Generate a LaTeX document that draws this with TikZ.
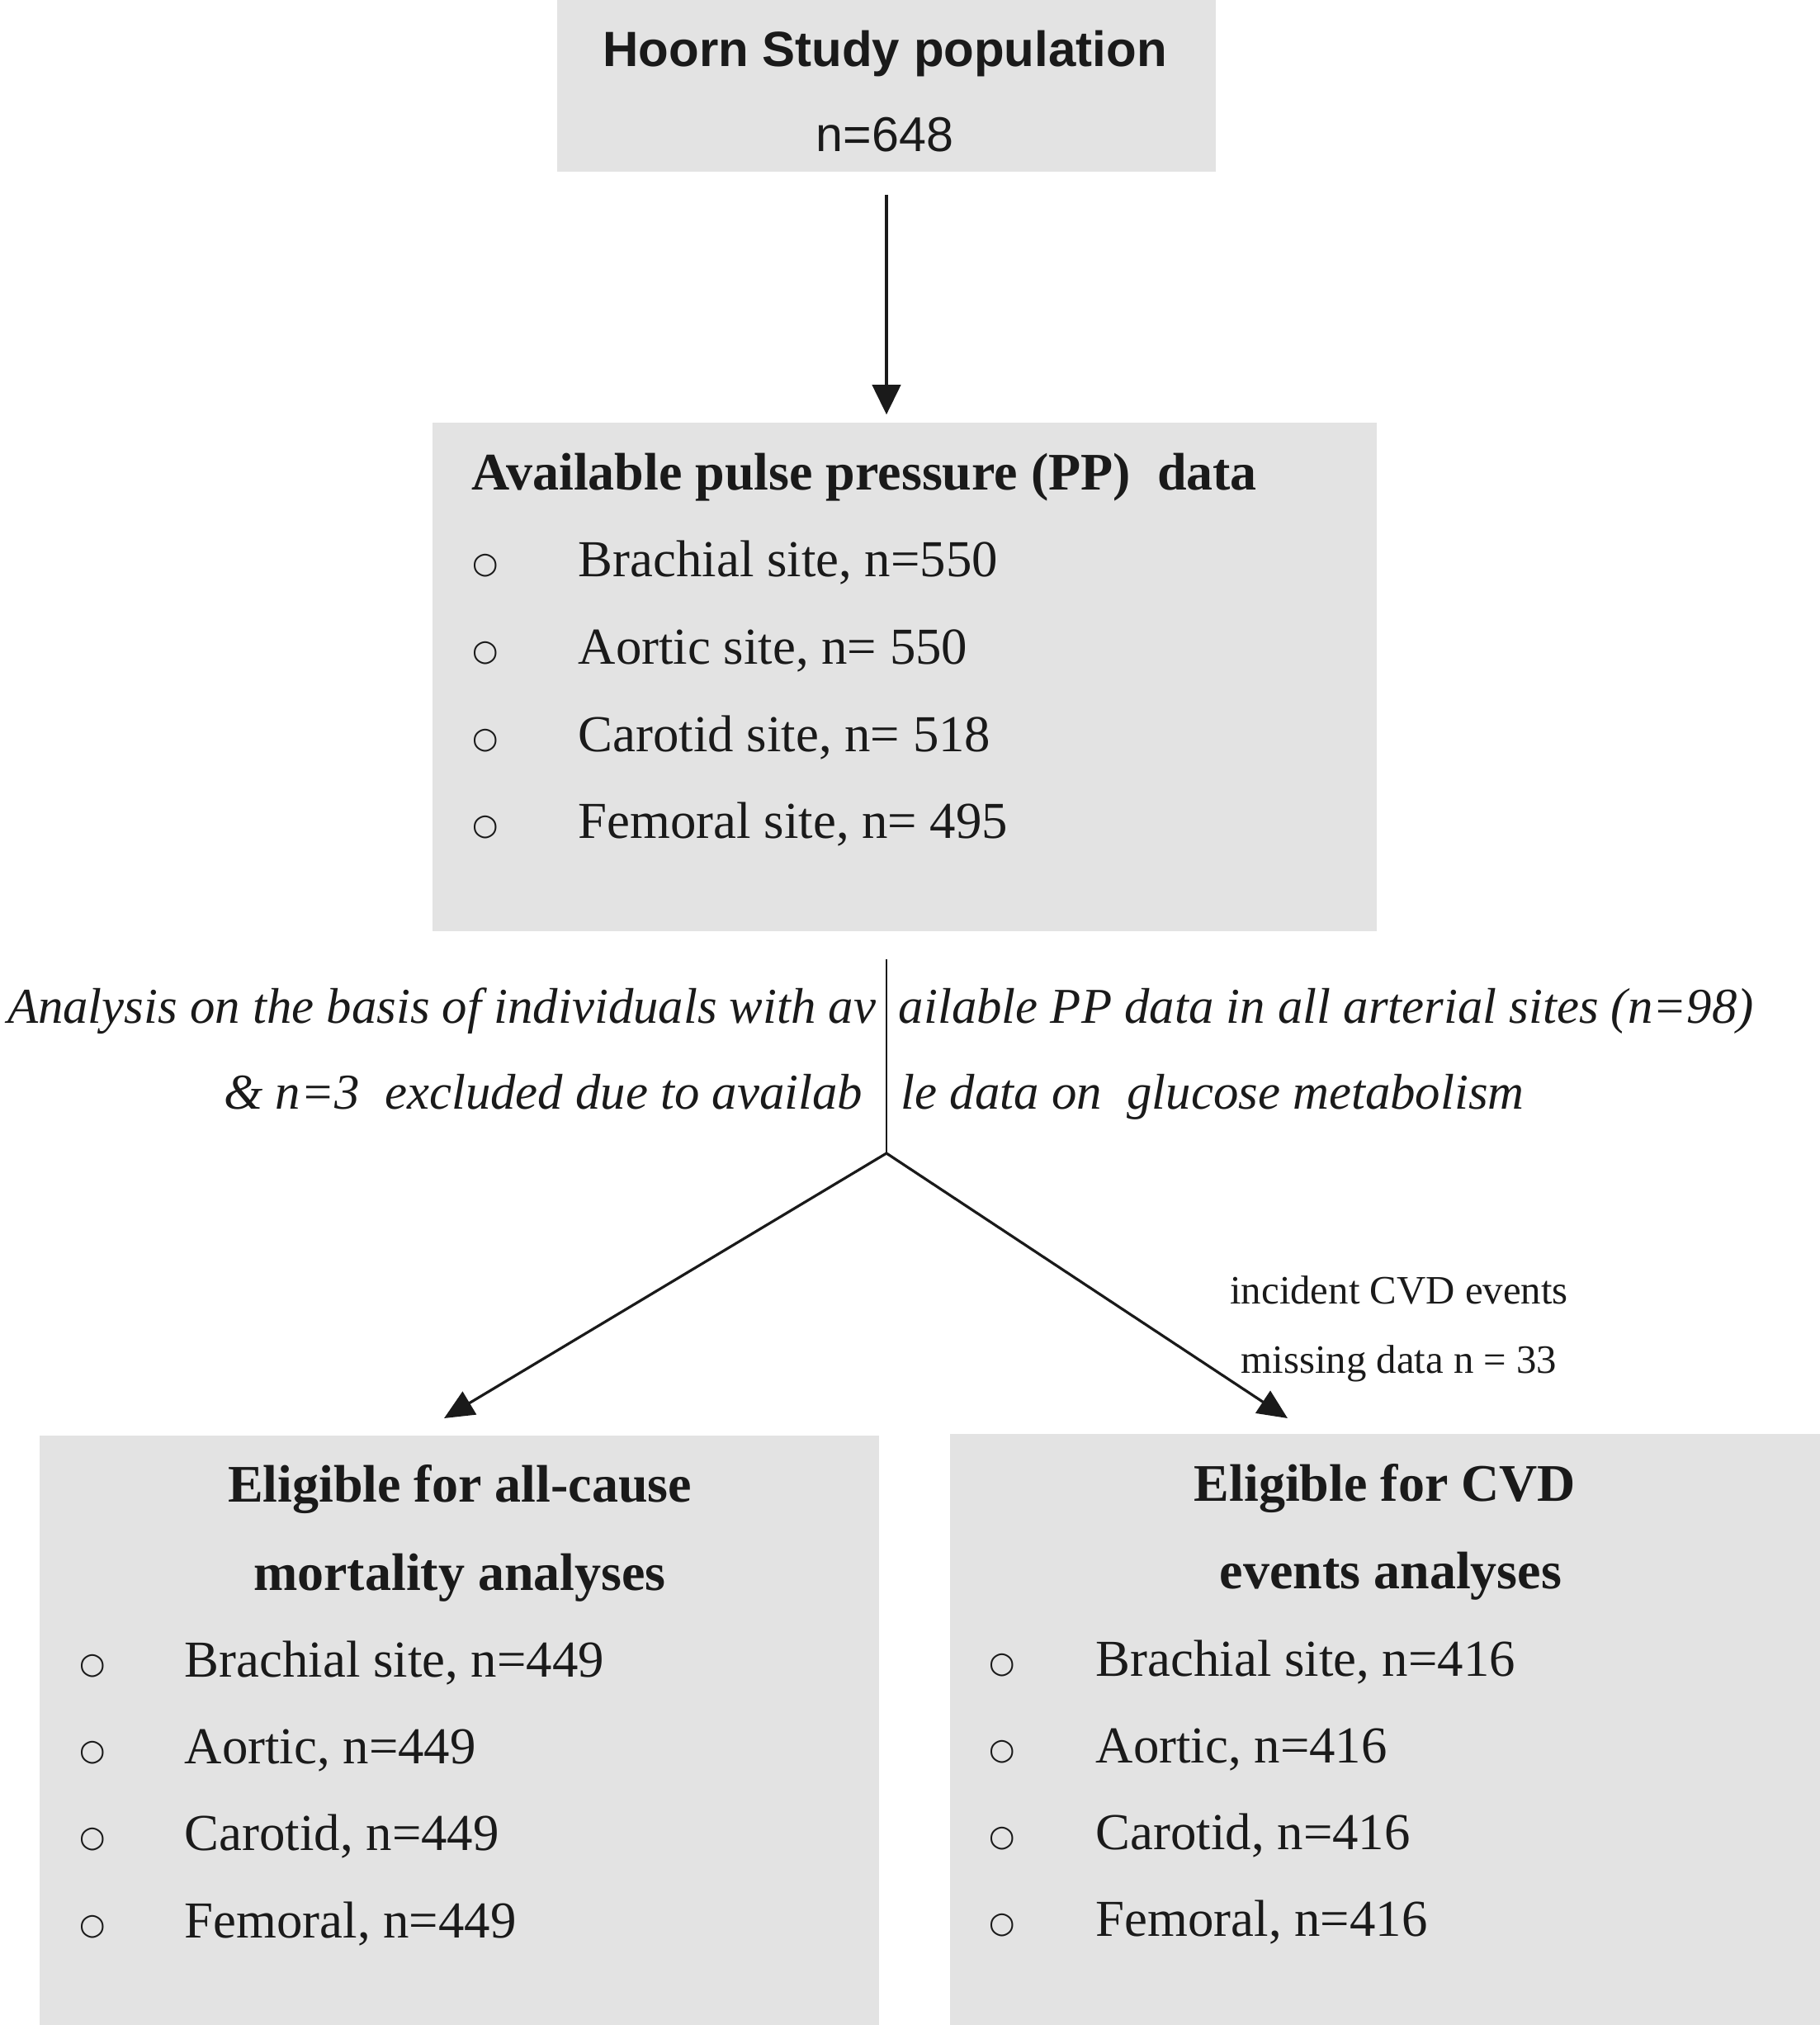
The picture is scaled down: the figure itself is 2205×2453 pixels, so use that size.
\documentclass[tikz,border=0pt]{standalone}
\usepackage{fontspec}
\setmainfont{Liberation Serif}
\newfontfamily\sansfont{Liberation Sans}
\newfontfamily\bulletfont{DejaVu Sans}
\usetikzlibrary{arrows.meta}
\definecolor{boxgray}{RGB}{227,227,227}
\definecolor{ink}{RGB}{26,26,26}
\begin{document}
\begin{tikzpicture}[x=0.25pt,y=-0.25pt,
  panel/.style={fill=boxgray, draw=none, inner sep=0pt, rectangle},
  txt/.style={inner sep=0pt, text=ink, anchor=base west, font=\fontsize{15.7}{19}\selectfont},
  bul/.style={inner sep=0pt, text=ink, anchor=south, font=\bulletfont\fontsize{9}{11}\selectfont},
  hd/.style={inner sep=0pt, text=ink, anchor=base, font=\bfseries\fontsize{16}{19}\selectfont},
  sanshd/.style={inner sep=0pt, text=ink, anchor=base, font=\sansfont\bfseries\fontsize{15}{18}\selectfont},
  sanstxt/.style={inner sep=0pt, text=ink, anchor=base, font=\sansfont\fontsize{14.8}{18}\selectfont},
  ittxt/.style={inner sep=0pt, text=ink, font=\itshape\fontsize{15.2}{19}\selectfont},
  note/.style={inner sep=0pt, text=ink, anchor=base, font=\fontsize{12.2}{15}\selectfont},
  arr/.style={draw=ink, line width=1.1pt, -{Triangle[length=9pt,width=8.5pt]}},
  stem/.style={draw=ink, line width=0.5pt},
  diag/.style={draw=ink, line width=0.8pt, -{Triangle[length=9pt,width=8pt]}}]
\useasboundingbox (0,0) rectangle (2205,2453);

% boxes
\node[panel, minimum width=199.5pt, minimum height=52pt] (top) at (1074,104) {};
\node[panel, minimum width=286pt, minimum height=154pt] (pp) at (1096,820) {};
\node[panel, minimum width=254.25pt, minimum height=178.5pt] (mort) at (556.5,2096) {};
\node[panel, minimum width=263.5pt, minimum height=179pt] (cvd) at (1678,2095) {};

% top box text
\node[sanshd] (toptitle) at (1072,80) {Hoorn Study population};
\node[sanstxt] (topn) at (1072,183) {n=648};

% PP box
\node[hd, anchor=base west] (pptitle) at (571,593) {Available pulse pressure (PP)\ \ data};
\node[bul] (ppb1) at (588,700) {○};
\node[bul] (ppb2) at (588,806) {○};
\node[bul] (ppb3) at (588,912) {○};
\node[bul] (ppb4) at (588,1017) {○};
\node[txt] (ppi1) at (700,698) {Brachial site, n=550};
\node[txt] (ppi2) at (700,804) {Aortic site, n= 550};
\node[txt] (ppi3) at (700,910) {Carotid site, n= 518};
\node[txt] (ppi4) at (700,1015) {Femoral site, n= 495};

% italic note split by the stem
\node[ittxt, anchor=base east] (an1l) at (1062,1239) {Analysis on the basis of individuals with av};
\node[ittxt, anchor=base west] (an1r) at (1088,1239) {ailable PP data in all arterial sites (n=98)};
\node[ittxt, anchor=base east] (an2l) at (1046,1343) {\&\ n=3\ \ excluded due to availab};
\node[ittxt, anchor=base west] (an2r) at (1091,1343) {le data on\ \ glucose metabolism};

% CVD note
\node[note] (cvdn1) at (1695,1579) {incident CVD events};
\node[note] (cvdn2) at (1695,1663) {missing data n = 33};

% mortality box
\node[hd] (mt1) at (557,1819) {Eligible for all-cause};
\node[hd] (mt2) at (557,1926) {mortality analyses};
\node[bul] (mb1) at (112,2033) {○};
\node[bul] (mb2) at (112,2138) {○};
\node[bul] (mb3) at (112,2243) {○};
\node[bul] (mb4) at (112,2349) {○};
\node[txt] (mi1) at (223,2031) {Brachial site, n=449};
\node[txt] (mi2) at (223,2136) {Aortic, n=449};
\node[txt] (mi3) at (223,2241) {Carotid, n=449};
\node[txt] (mi4) at (223,2347) {Femoral, n=449};

% CVD box
\node[hd] (ct1) at (1678,1818) {Eligible for CVD};
\node[hd] (ct2) at (1685,1924) {events analyses};
\node[bul] (cb1) at (1214,2032) {○};
\node[bul] (cb2) at (1214,2137) {○};
\node[bul] (cb3) at (1214,2242) {○};
\node[bul] (cb4) at (1214,2347) {○};
\node[txt] (ci1) at (1327,2030) {Brachial site, n=416};
\node[txt] (ci2) at (1327,2135) {Aortic, n=416};
\node[txt] (ci3) at (1327,2240) {Carotid, n=416};
\node[txt] (ci4) at (1327,2345) {Femoral, n=416};

% connectors
\draw[arr, shorten <=6.75pt, shorten >=2.25pt] (top.south) -- (top.south |- pp.north);
\coordinate (split) at (1074,1397);
\coordinate (tipL) at (538,1718);
\coordinate (tipR) at (1560,1718);
\draw[stem, shorten <=8.25pt] (top.south |- pp.south) -- (split);
\draw[diag] (split) -- (tipL);
\draw[diag] (split) -- (tipR);
\end{tikzpicture}
\end{document}
